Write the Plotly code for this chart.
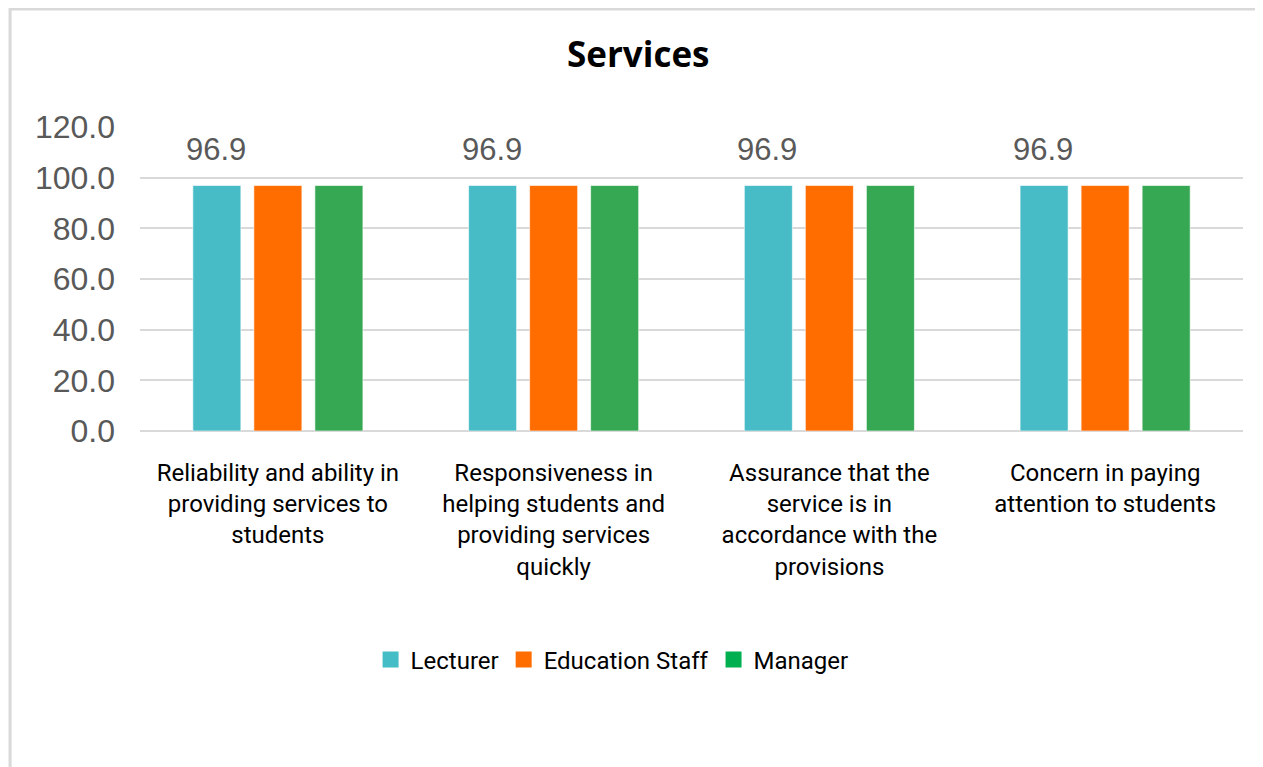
import plotly.graph_objects as go

categories = [
    "Reliability and ability in<br>providing services to<br>students",
    "Responsiveness in<br>helping students and<br>providing services<br>quickly",
    "Assurance that the<br>service is in<br>accordance with the<br>provisions",
    "Concern in paying<br>attention to students",
]
lecturer = [96.9, 96.9, 96.9, 96.9]
education_staff = [96.9, 96.9, 96.9, 96.9]
manager = [96.9, 96.9, 96.9, 96.9]

# name, values, bar colour, legend colour
series = [
    ("Lecturer", lecturer, "#47BCC6", "#45BDC6"),
    ("Education Staff", education_staff, "#FF6D00", "#FF6D00"),
    ("Manager", manager, "#36A853", "#00B050"),
]

fig = go.Figure()
for name, vals, col, lcol in series:
    fig.add_trace(go.Bar(
        x=categories, y=vals, name=name, showlegend=False,
        marker=dict(color=col, line=dict(color="rgba(255,255,255,0.6)", width=1)),
    ))
# legend entries with square swatches
for name, vals, col, lcol in series:
    fig.add_trace(go.Scatter(
        x=[None], y=[None], mode="markers", name=name,
        marker=dict(symbol="square", size=16, color=lcol),
    ))

# value labels above the Lecturer bars only
for cat, v in zip(categories, lecturer):
    fig.add_annotation(x=cat, y=v, text="%.1f" % v, showarrow=False,
                       xshift=-62, yshift=36,
                       font=dict(family="Liberation Sans, Arial", size=31, color="#595959"))

# light border around the chart
fig.add_shape(type="rect", xref="paper", yref="paper",
              x0=-0.1178, x1=1.2, y0=-1.5, y1=1.388,
              line=dict(color="#D9D9D9", width=3), layer="below")

fig.update_layout(
    width=1263, height=767,
    margin=dict(l=132, r=28, t=119, b=344),
    paper_bgcolor="white", plot_bgcolor="white",
    title=dict(text="<b>Services</b>", x=0.499, xanchor="center", y=0.939, yanchor="middle",
               font=dict(family="Open Sans", size=35, color="black")),
    barmode="group", bargap=0.336, bargroupgap=0.213,
    showlegend=True,
    legend=dict(orientation="h", x=0.428, xanchor="center", y=-0.753, yanchor="middle",
                font=dict(family="Roboto", size=24, color="black"), itemwidth=30),
    font=dict(family="Roboto"),
)
fig.update_yaxes(range=[0, 120], dtick=20, tickformat=".1f",
                 showgrid=True, gridcolor="#D9D9D9", gridwidth=2,
                 zeroline=True, zerolinecolor="#D9D9D9", zerolinewidth=2,
                 ticklabelstandoff=24,
                 tickfont=dict(family="Liberation Sans, Arial", size=32, color="#595959"))
fig.update_xaxes(showline=False, ticklabelstandoff=25,
                 tickfont=dict(family="Roboto", size=24, color="black"))

fig.write_html("out.html")
